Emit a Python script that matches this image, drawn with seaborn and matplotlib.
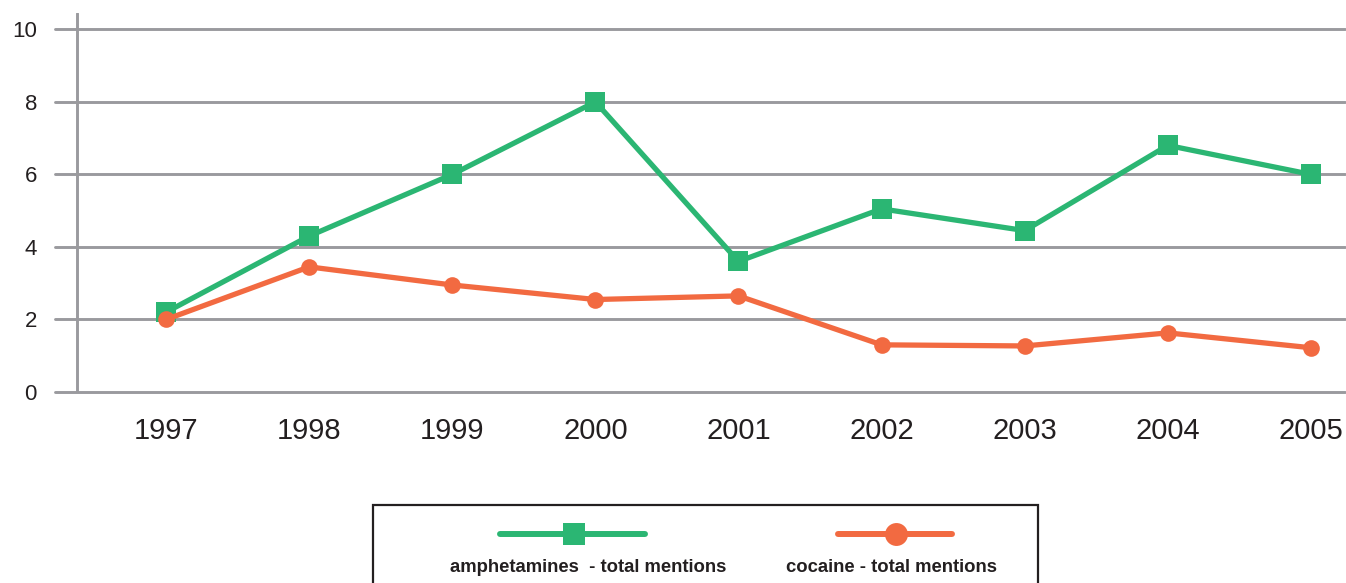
import matplotlib
matplotlib.use('Agg')
import matplotlib.pyplot as plt
import seaborn as sns
import pandas as pd
from matplotlib.lines import Line2D
from matplotlib.patches import Rectangle

# Values
years = [1997, 1998, 1999, 2000, 2001, 2002, 2003, 2004, 2005]
amphetamines = [2.2, 4.3, 6.0, 8.0, 3.6, 5.05, 4.45, 6.8, 6.0]
cocaine = [2.0, 3.45, 2.95, 2.55, 2.65, 1.3, 1.27, 1.63, 1.22]
y_ticks = [0, 2, 4, 6, 8, 10]
series_names = ['amphetamines  - total mentions', 'cocaine - total mentions']

green = '#2bb673'
orange = '#f26a41'
grid_grey = '#9a9a9e'
text_col = '#231f20'

sns.set_style('white')
plt.rcParams['font.family'] = ['Liberation Sans', 'DejaVu Sans']

df = pd.DataFrame({'year': years, 'amph': amphetamines, 'coc': cocaine})

fig = plt.figure(figsize=(13.46, 5.83), dpi=100)
ax = fig.add_axes([55 / 1346, 191 / 583, 1290 / 1346, 379 / 583])

# gridlines and the left axis line
for t in y_ticks:
    ax.axhline(t, color=grid_grey, lw=2.1, zorder=1, clip_on=False)
ax.axvline(1996.378, color=grid_grey, lw=2.1, zorder=1)

sns.lineplot(data=df, x='year', y='amph', ax=ax, color=green, lw=3.8,
             marker='s', markersize=14, markeredgewidth=0, zorder=3)
sns.lineplot(data=df, x='year', y='coc', ax=ax, color=orange, lw=3.8,
             marker='o', markersize=12, markeredgewidth=0, zorder=4)

ax.set_xlim(1996.224, 2005.238)
ax.set_ylim(0, 10.45)
ax.set_xticks(years)
ax.set_xticklabels([str(y) for y in years])
ax.set_yticks(y_ticks)
ax.tick_params(axis='x', length=0, pad=18, labelsize=21, labelcolor=text_col)
ax.tick_params(axis='y', length=0, pad=13, labelsize=16, labelcolor=text_col)
ax.set_xlabel('')
ax.set_ylabel('')
for s in ax.spines.values():
    s.set_visible(False)
ax.grid(False)

# custom legend box: markers above labels, box runs off the bottom
fig.patches.append(Rectangle((373 / 1346, -0.02), 665 / 1346, 0.154,
                             transform=fig.transFigure, fill=False,
                             edgecolor=text_col, lw=1.6))
ly = (583 - 534) / 583
fig.lines.append(Line2D([500 / 1346, 645 / 1346], [ly, ly], transform=fig.transFigure,
                        color=green, lw=4.3))
fig.lines.append(Line2D([574 / 1346], [ly], transform=fig.transFigure, color=green,
                        marker='s', markersize=16.5, markeredgewidth=0))
fig.lines.append(Line2D([838 / 1346, 952 / 1346], [ly, ly], transform=fig.transFigure,
                        color=orange, lw=4.3))
fig.lines.append(Line2D([896 / 1346], [ly], transform=fig.transFigure, color=orange,
                        marker='o', markersize=16.5, markeredgewidth=0))
ty = (583 - 567) / 583
fig.text(588 / 1346, ty, series_names[0], ha='center', va='center',
         fontsize=13.3, fontweight='bold', color=text_col)
fig.text(891 / 1346, ty, series_names[1], ha='center', va='center',
         fontsize=13.3, fontweight='bold', color=text_col)

fig.savefig('out.png', dpi=100)
